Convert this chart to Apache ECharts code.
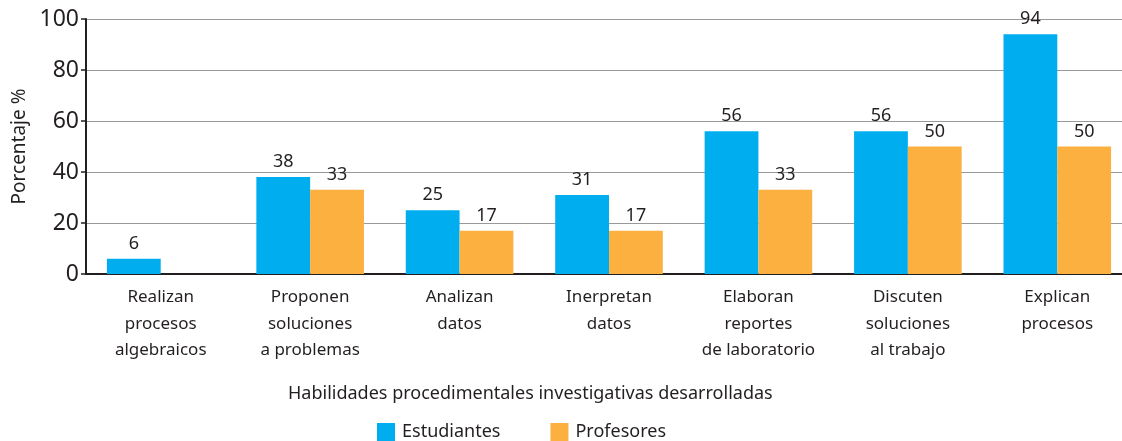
<!DOCTYPE html>
<html>
<head>
<meta charset="utf-8">
<script src="https://cdn.jsdelivr.net/npm/echarts@6/dist/echarts.min.js"></script>
<style>html,body{margin:0;padding:0;background:#fff}#c{width:1122px;height:441px}</style>
</head>
<body>
<div id="c"></div>
<script>
const categories = [
  "Realizan\nprocesos\nalgebraicos",
  "Proponen\nsoluciones\na problemas",
  "Analizan\ndatos",
  "Inerpretan\ndatos",
  "Elaboran\nreportes\nde laboratorio",
  "Discuten\nsoluciones\nal trabajo",
  "Explican\nprocesos"
];
const estudiantes = [6, 38, 25, 31, 56, 56, 94];
const profesores = [0, 33, 17, 17, 33, 50, 50];
const yTicks = [0, 20, 40, 60, 80, 100];

const FONT = "Noto Sans";
const INK = '#231F20';
const chart = echarts.init(document.getElementById('c'), null, {renderer: 'canvas'});
const labelOpt = {
  show: true, position: 'top', distance: 6,
  fontFamily: FONT, fontSize: 18, color: INK,
  formatter: p => (p.value ? String(p.value) : '')
};
chart.setOption({
  animation: false,
  textStyle: {fontFamily: FONT},
  title: {
    text: 'Habilidades procedimentales investigativas desarrolladas',
    left: 283, top: 380,
    textStyle: {fontFamily: FONT, fontSize: 18, fontWeight: 'normal', color: INK}
  },
  grid: {left: 86, top: 19, bottom: 167, width: 1046, containLabel: false, outerBoundsMode: 'none'},
  legend: {
    top: 423, left: 377, padding: 0, itemWidth: 18, itemHeight: 18, itemGap: 50,
    icon: 'rect',
    textStyle: {fontFamily: FONT, fontSize: 18, color: INK, padding: [0, 0, 0, 2]},
    data: ['Estudiantes', 'Profesores']
  },
  xAxis: {
    type: 'category', data: categories,
    axisLine: {lineStyle: {color: INK, width: 2}},
    axisTick: {show: false},
    axisLabel: {fontFamily: FONT, fontSize: 17, color: INK, lineHeight: 26.5, margin: 10, interval: 0}
  },
  yAxis: {
    type: 'value', min: yTicks[0], max: yTicks[yTicks.length - 1], interval: 20,
    name: 'Porcentaje %', nameLocation: 'middle', nameGap: 54,
    nameTextStyle: {fontFamily: FONT, fontSize: 19, color: INK},
    axisLine: {show: true, lineStyle: {color: INK, width: 2}},
    axisTick: {show: true, length: 5, lineStyle: {color: INK, width: 1.5}},
    axisLabel: {fontFamily: FONT, fontSize: 23, color: INK, margin: 7},
    splitLine: {lineStyle: {color: '#999', width: 1.2}}
  },
  series: [
    {name: 'Estudiantes', type: 'bar', data: estudiantes, barWidth: '36%', barGap: '0%',
     itemStyle: {color: '#00AEEF'}, label: labelOpt},
    {name: 'Profesores', type: 'bar', data: profesores, barWidth: '36%', barGap: '0%',
     itemStyle: {color: '#FBB040'}, label: labelOpt}
  ]
});
</script>
</body>
</html>
